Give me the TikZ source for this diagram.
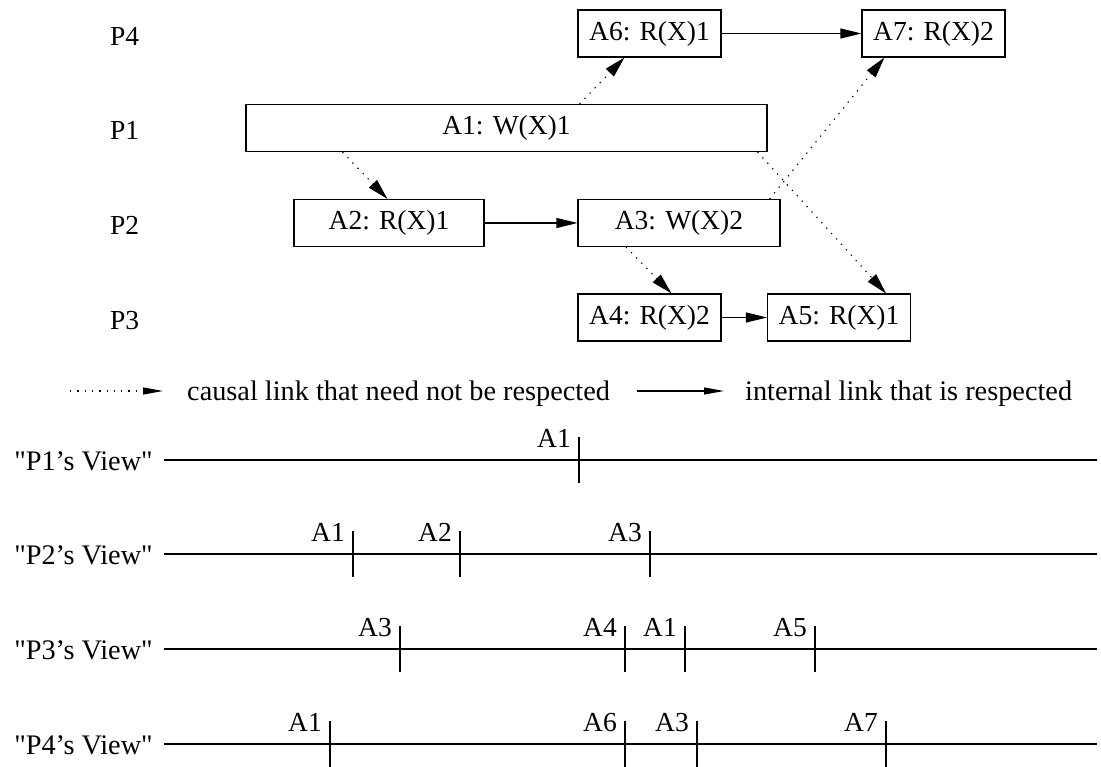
\documentclass[tikz,border=0pt]{standalone}
\usepackage{fontspec}
\setmainfont{Liberation Serif}[Ligatures=TeXOff]
\usetikzlibrary{arrows.meta}
\begin{document}
\begin{tikzpicture}[x=1pt,y=-1pt,
  every node/.style={font=\fontsize{27.5}{30}\selectfont},
  bigtext/.style={font=\fontsize{28.3}{31}\selectfont},
  evbox/.style={draw,line width=1.1pt,inner sep=0pt,minimum height=47pt},
  causal/.style={line width=1.1pt,dash pattern=on 1.3pt off 6pt,-{Triangle[length=21pt,width=11pt]}},
  internal/.style={line width=1.1pt,-{Triangle[length=21pt,width=10pt]}},
  legcausal/.style={line width=1.1pt,dash pattern=on 1.3pt off 6pt,-{Triangle[length=20pt,width=7pt]}},
  leginternal/.style={line width=1.1pt,-{Triangle[length=20pt,width=7pt]}},
  tl/.style={line width=1.1pt},
  tick/.style={line width=1.1pt},
  ticklab/.style={inner sep=0pt,anchor=base east},
  plab/.style={inner sep=0pt,anchor=base west},
  vlab/.style={inner sep=0pt,anchor=base east,bigtext}]
\useasboundingbox (0,0) rectangle (1101,767);

% process labels
\node[plab] (p4) at (110,46) {P4};
\node[plab] (p1) at (110,140) {P1};
\node[plab] (p2) at (110,235) {P2};
\node[plab] (p3) at (110,330) {P3};

% event boxes
\node[evbox,minimum width=521pt] (A1) at (506.5,128) {A1: W(X)1};
\node[evbox,minimum width=190pt] (A2) at (389,223) {A2: R(X)1};
\node[evbox,minimum width=202pt] (A3) at (679,223) {A3: W(X)2};
\node[evbox,minimum width=143pt] (A6) at (649.5,33.5) {A6: R(X)1};
\node[evbox,minimum width=143pt] (A7) at (933.5,33.5) {A7: R(X)2};
\node[evbox,minimum width=143pt] (A4) at (649.5,317.5) {A4: R(X)2};
\node[evbox,minimum width=143pt] (A5) at (839,317.5) {A5: R(X)1};

% causal links
\draw[causal] ([xshift=97pt]A1.south west) -- ([xshift=94pt]A2.north west);
\draw[causal] ([xshift=334pt]A1.north west) -- ([xshift=47pt]A6.south west);
\draw[causal] ([xshift=-10pt]A1.south east) -- ([xshift=-25pt]A5.north east);
\draw[causal] ([xshift=-11pt]A3.north east) -- ([xshift=23pt]A7.south west);
\draw[causal] ([xshift=48.5pt]A3.south west) -- ([xshift=94pt]A4.north west);

% internal links
\draw[internal] (A2.east) -- (A3.west);
\draw[internal] (A6.east) -- (A7.west);
\draw[internal] (A4.east) -- (A5.west);

% legend
\coordinate (lc1) at (70,391);
\coordinate (lc2) at (163,391);
\coordinate (li1) at (637,391);
\coordinate (li2) at (724,391);
\draw[legcausal] (lc1) -- (lc2);
\draw[leginternal] (li1) -- (li2);
\node[plab,bigtext] (lt1) at (187,401) {causal link that need not be respected};
\node[plab,bigtext] (lt2) at (745,401) {internal link that is respected};

% timelines
\foreach \nm/\yy in {1/460,2/554,3/649,4/744}{
  \coordinate (ts\nm) at (164,\yy);
  \coordinate (te\nm) at (1097,\yy);
  \draw[tl] (ts\nm) -- (te\nm);
  \node[vlab] (v\nm) at (153,\yy+10) {"P\nm’s View"};
}

% ticks
\foreach \lab/\xx/\yy in {A1/579/460,
  A1/353/554, A2/460/554, A3/650/554,
  A3/400/649, A4/625/649, A1/685/649, A5/815/649,
  A1/330/744, A6/625/744, A3/697/744, A7/886/744}{
  \coordinate (tt) at (\xx,\yy-23);
  \coordinate (tb) at (\xx,\yy+23);
  \draw[tick] (tt) -- (tb);
  \node[ticklab] at (\xx-8,\yy-13) {\lab};
}
\end{tikzpicture}
\end{document}
